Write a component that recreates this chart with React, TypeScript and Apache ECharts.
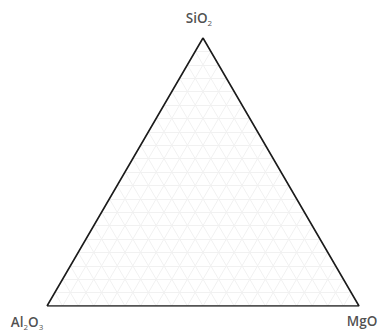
import React, { useEffect, useRef } from "react";
import * as echarts from "echarts";

const H = Math.sqrt(3) / 2;
const vertexNames = ["Al2O3", "MgO", "SiO2"];
const vertexRich = ["{n|Al}{s|2}{n|O}{s|3}", "{n|MgO}", "{n|SiO}{s|2}"];
const vertexCoords: [number, number][] = [
  [0, 0],
  [1, 0],
  [0.5, H],
];
const labelOffsets: [number, number][] = [
  [-20, 16],
  [3, 15],
  [-4, -20],
];
const divisions = 20;

function gridLines() {
  const out: { coords: [number, number][] }[] = [];
  for (let i = 1; i < divisions; i++) {
    const t = i / divisions;
    out.push({ coords: [[t / 2, t * H], [1 - t / 2, t * H]] });
    out.push({ coords: [[1 - t, 0], [0.5 * (1 - t), H * (1 - t)]] });
    out.push({ coords: [[t, 0], [0.5 + 0.5 * t, H * (1 - t)]] });
  }
  return out;
}

export default function App() {
  const ref = useRef<HTMLDivElement>(null);
  useEffect(() => {
    if (!ref.current) return;
    const chart = echarts.init(ref.current, undefined, { renderer: "svg" });
    chart.setOption({
      animation: false,
      backgroundColor: "#ffffff",
      grid: { left: 47, right: 21, top: 38, bottom: 27 },
      xAxis: { type: "value", min: 0, max: 1, show: false },
      yAxis: { type: "value", min: 0, max: H, show: false },
      series: [
        {
          type: "lines",
          coordinateSystem: "cartesian2d",
          data: gridLines(),
          silent: true,
          lineStyle: { color: "#f1f1f1", width: 1, opacity: 1 },
        },
        {
          type: "line",
          data: [...vertexCoords, vertexCoords[0]],
          symbol: "none",
          silent: true,
          lineStyle: { color: "#1c1c1c", width: 1.6 },
        },
        {
          type: "scatter",
          symbolSize: 1,
          itemStyle: { color: "transparent" },
          data: vertexCoords.map((c, i) => ({
            name: vertexNames[i],
            value: c,
            label: {
              show: true,
              position: "inside",
              offset: labelOffsets[i],
              formatter: vertexRich[i],
              rich: {
                n: {
                  fontFamily: "Open Sans",
                  fontSize: 13.5,
                  fontWeight: 600,
                  color: "#222",
                  lineHeight: 17,
                },
                s: {
                  fontFamily: "Open Sans",
                  fontSize: 8,
                  color: "#222",
                  verticalAlign: "bottom",
                  lineHeight: 17,
                  padding: [7, 0, 0, 0],
                },
              },
            },
          })),
        },
      ],
    });
    return () => chart.dispose();
  }, []);
  return (
    <div
      ref={ref}
      style={{ position: "absolute", left: 0, top: 0, width: 380, height: 333 }}
    />
  );
}
